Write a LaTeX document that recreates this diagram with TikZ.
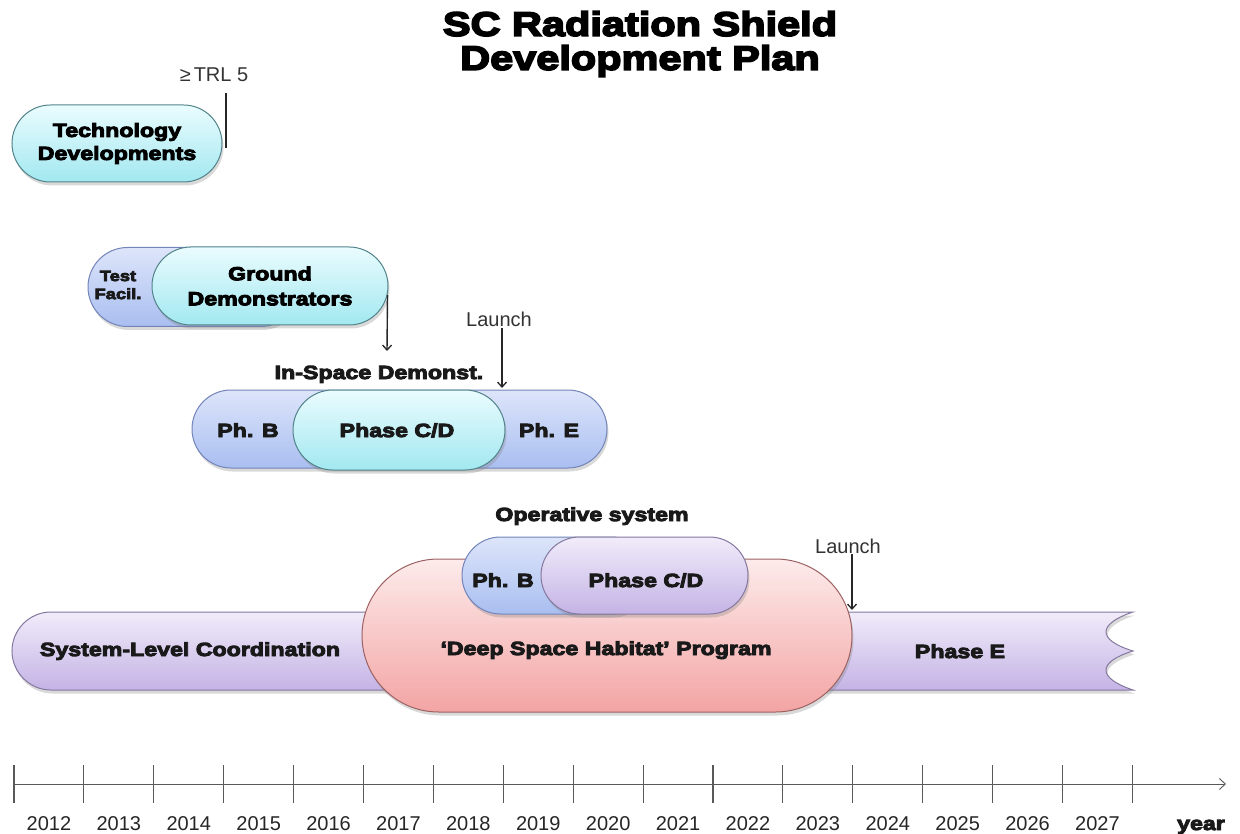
\documentclass[tikz,border=0pt]{standalone}
\usepackage{fontspec}
\setmainfont{Liberation Sans}
\newfontfamily\heavy{Liberation Sans Bold}[FakeStretch=1.22,FakeBold=5]
\usetikzlibrary{shapes.misc,shadows,arrows.meta}
\definecolor{cyantop}{HTML}{EAFCFE}
\definecolor{cyanbot}{HTML}{A2E8F0}
\definecolor{cyanline}{HTML}{52838A}
\definecolor{bluetop}{HTML}{DDE5FA}
\definecolor{bluebot}{HTML}{A9BEF0}
\definecolor{blueline}{HTML}{7284B8}
\definecolor{lavtop}{HTML}{F1ECFA}
\definecolor{lavbot}{HTML}{C4B3E5}
\definecolor{lavline}{HTML}{85789F}
\definecolor{pinktop}{HTML}{FDEBEB}
\definecolor{pinkbot}{HTML}{F3A4A4}
\definecolor{pinkline}{HTML}{9C6262}
\begin{document}
\begin{tikzpicture}[x=1pt,y=-1pt,
  shade/.style={drop shadow={opacity=0.3,shadow xshift=1.5pt,shadow yshift=-3.5pt}},
  pill/.style={shape=rounded rectangle, inner sep=0pt, line width=1pt, align=center,
    font=\heavy\fontsize{19}{24}\selectfont, shade},
  cyanpill/.style={pill, draw=cyanline, top color=cyantop, bottom color=cyanbot},
  bluepill/.style={pill, draw=blueline, top color=bluetop, bottom color=bluebot},
  lavpill/.style={pill, draw=lavline, top color=lavtop, bottom color=lavbot},
  pinkpill/.style={pill, draw=pinkline, top color=pinktop, bottom color=pinkbot},
  lab/.style={font=\heavy\fontsize{19}{24}\selectfont, inner sep=0pt, anchor=base, text=black!90},
  titlelab/.style={font=\heavy\fontsize{34}{34}\selectfont, inner sep=0pt, align=center},
  note/.style={font=\fontsize{20}{22}\selectfont, inner sep=1pt, anchor=base, text=black!80},
  yearlab/.style={font=\fontsize{20}{22}\selectfont, inner sep=0pt, anchor=base, text=black!85},
  arr/.style={-{Straight Barb[length=5pt,width=9pt,line width=1.3pt]}, line width=1.4pt, draw=black!85},
  marker/.style={line width=1.6pt, draw=black!85},
  tick/.style={line width=1.1pt, draw=black!65},
  axisline/.style={line width=1pt, draw=black!65, -{Straight Barb[length=6pt,width=11pt,line width=0.9pt]}}
]
\useasboundingbox (0,0) rectangle (1240,834);

% title
\node[titlelab, anchor=north] (title) at (640,11) {SC Radiation Shield\\Development Plan};

% technology developments
\node[note] (trl) at (214,82) {≥\kern3pt TRL 5};
\node[cyanpill, minimum width=210pt, minimum height=77pt] (tech) at (117,143.5) {Technology\\[-1pt]Developments};
\coordinate (trltop) at (226,93);
\coordinate (trlbot) at (226,148);
\draw[marker] (trltop) -- (trlbot);

% ground demonstrators
\node[bluepill, minimum width=212pt, minimum height=79pt] (testfac) at (194,287) {};
\node[lab, font=\heavy\fontsize{15}{18}\selectfont, align=center, anchor=center] (testtxt) at (118,285) {Test\\Facil.};
\node[cyanpill, minimum width=236pt, minimum height=78pt, font=\heavy\fontsize{19}{25}\selectfont] (gd) at (270,286) {Ground\\Demonstrators};
\coordinate (gdtip) at (387,351);
\draw[arr] ([xshift=-1pt,yshift=-9pt]gd.east) -- (gdtip);

% in-space demonstrator
\node[note] (launch1) at (499,327) {Launch};
\node[lab] (isdlab) at (379,379) {In-Space Demonst.};
\node[bluepill, minimum width=415pt, minimum height=78pt] (isd) at (399.5,429) {};
\node[cyanpill, minimum width=212pt, minimum height=80pt] (cd1) at (399,430) {};
\node[lab] (phb1) at (248,437) {Ph. B};
\node[lab] (cd1lab) at (397,437) {Phase C/D};
\node[lab] (phe1) at (549,437) {Ph. E};
\coordinate (l1tip) at (502,388);
\draw[arr] (launch1.south -| l1tip) -- (l1tip);

% lower bar
\path[shade, draw=lavline, line width=1pt, top color=lavtop, bottom color=lavbot]
  (51,612) -- (1133,612)
  .. controls (1097,624) and (1097,640) .. (1133,651)
  .. controls (1097,662) and (1097,678) .. (1133,690)
  -- (51,690)
  .. controls (29.5,690) and (12,672.5) .. (12,651)
  .. controls (12,629.5) and (29.5,612) .. (51,612) -- cycle;
\node[lab] (syslab) at (190,656) {System-Level Coordination};
\node[lab] (phaseE) at (960,658) {Phase E};

% deep space habitat
\node[pinkpill, minimum width=490pt, minimum height=153pt] (dsh) at (607,635.5) {};
\node[lab] (dshlab) at (606,655) {‘Deep Space Habitat’ Program};
\node[lab] (opslab) at (592,521) {Operative system};
\node[bluepill, minimum width=188pt, minimum height=77pt] (phb2) at (556,575.5) {};
\node[lavpill, minimum width=207pt, minimum height=77pt] (cd2) at (644.5,575.5) {};
\node[lab] (phb2lab) at (503,587) {Ph. B};
\node[lab] (cd2lab) at (646,587) {Phase C/D};
\node[note] (launch2) at (848,553) {Launch};
\coordinate (l2tip) at (852,610);
\draw[arr] (launch2.south -| l2tip) -- (l2tip);

% time axis
\coordinate (axstart) at (14,784);
\coordinate (axend) at (1226,784);
\draw[axisline] (axstart) -- (axend);
\foreach \k in {0,...,16} {
  \draw[tick] ({14+69.9*\k},765) -- ({14+69.9*\k},803);
}
\foreach \k in {0,...,15} {
  \pgfmathtruncatemacro\yr{2012+\k}
  \node[yearlab] (yr\k) at ({14+69.9*(\k+0.5)},830) {\yr};
}
\node[lab] (yearword) at (1201,830) {year};
\end{tikzpicture}
\end{document}
